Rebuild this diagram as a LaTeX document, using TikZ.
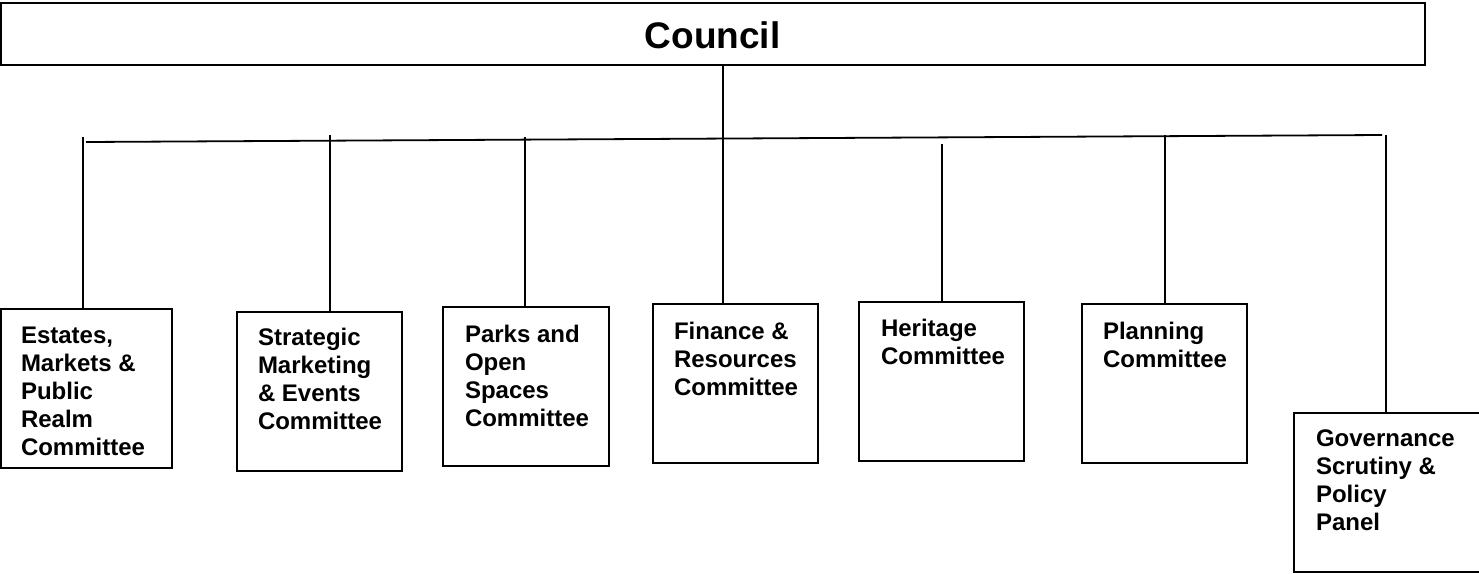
\documentclass[tikz,border=0pt]{standalone}
\usepackage{fontspec}
\setmainfont{Liberation Sans}
\usetikzlibrary{calc}
\tikzset{
  box/.style={draw=black, line width=1.8pt, rectangle, inner sep=0pt, outer sep=0pt},
  boxtext/.style={anchor=north west, inner sep=0pt, outer sep=0pt, align=left,
    font=\bfseries\fontsize{24}{28}\selectfont},
  link/.style={draw=black, line width=1.8pt}
}
\begin{document}
\begin{tikzpicture}[x=1pt,y=-1pt]
\useasboundingbox (0,0) rectangle (1479,573);
% boxes: centre, width, height
\node[box, minimum width=1424pt, minimum height=62pt] (council) at (713,34) {};
\node[font=\bfseries\fontsize{37}{40}\selectfont, inner sep=0pt] (counciltext) at (712.5,35.5) {Council};

\node[box, minimum width=171pt, minimum height=159pt] (estates) at (86.5,388.5) {};
\node[box, minimum width=165pt, minimum height=159pt] (strategic) at (319.5,391.5) {};
\node[box, minimum width=166pt, minimum height=159pt] (parks) at (526,386.5) {};
\node[box, minimum width=165pt, minimum height=159pt] (finance) at (735.5,383.5) {};
\node[box, minimum width=165pt, minimum height=159pt] (heritage) at (941.5,381.5) {};
\node[box, minimum width=165pt, minimum height=159pt] (planning) at (1164.5,383.5) {};
\node[box, minimum width=200pt, minimum height=159pt] (governance) at (1394,492.5) {};

\node[boxtext] (estatestext) at ($(estates.north west)+(20,18)$) {Estates,\\Markets \&\\Public\\Realm\\Committee};
\node[boxtext] (strategictext) at ($(strategic.north west)+(21,16)$) {Strategic\\Marketing\\\& Events\\Committee};
\node[boxtext] (parkstext) at ($(parks.north west)+(22,18)$) {Parks and\\Open\\Spaces\\Committee};
\node[boxtext] (financetext) at ($(finance.north west)+(21,18)$) {Finance \&\\Resources\\Committee};
\node[boxtext] (heritagetext) at ($(heritage.north west)+(22,17)$) {Heritage\\Committee};
\node[boxtext] (planningtext) at ($(planning.north west)+(21,18)$) {Planning\\Committee};
\node[boxtext] (governancetext) at ($(governance.north west)+(22,17)$) {Governance\\Scrutiny \&\\Policy\\Panel};

% bus line
\coordinate (busL) at (86,142);
\coordinate (busR) at (1382,135);
\draw[link] (busL) -- (busR);

% taps
\coordinate (tE) at (83,137);
\coordinate (tS) at (330,135);
\coordinate (tP) at (525,137);
\coordinate (tF) at (723,65);
\coordinate (tH) at (942,144);
\coordinate (tL) at (1165,135);
\coordinate (tG) at (1386,135);

\draw[link] (tE) -- (tE |- estates.north);
\draw[link] (tS) -- (tS |- strategic.north);
\draw[link] (tP) -- (tP |- parks.north);
\draw[link] (tF) -- (tF |- finance.north);
\draw[link] (tH) -- (tH |- heritage.north);
\draw[link] (tL) -- (tL |- planning.north);
\draw[link] (tG) -- (tG |- governance.north);
\end{tikzpicture}
\end{document}
